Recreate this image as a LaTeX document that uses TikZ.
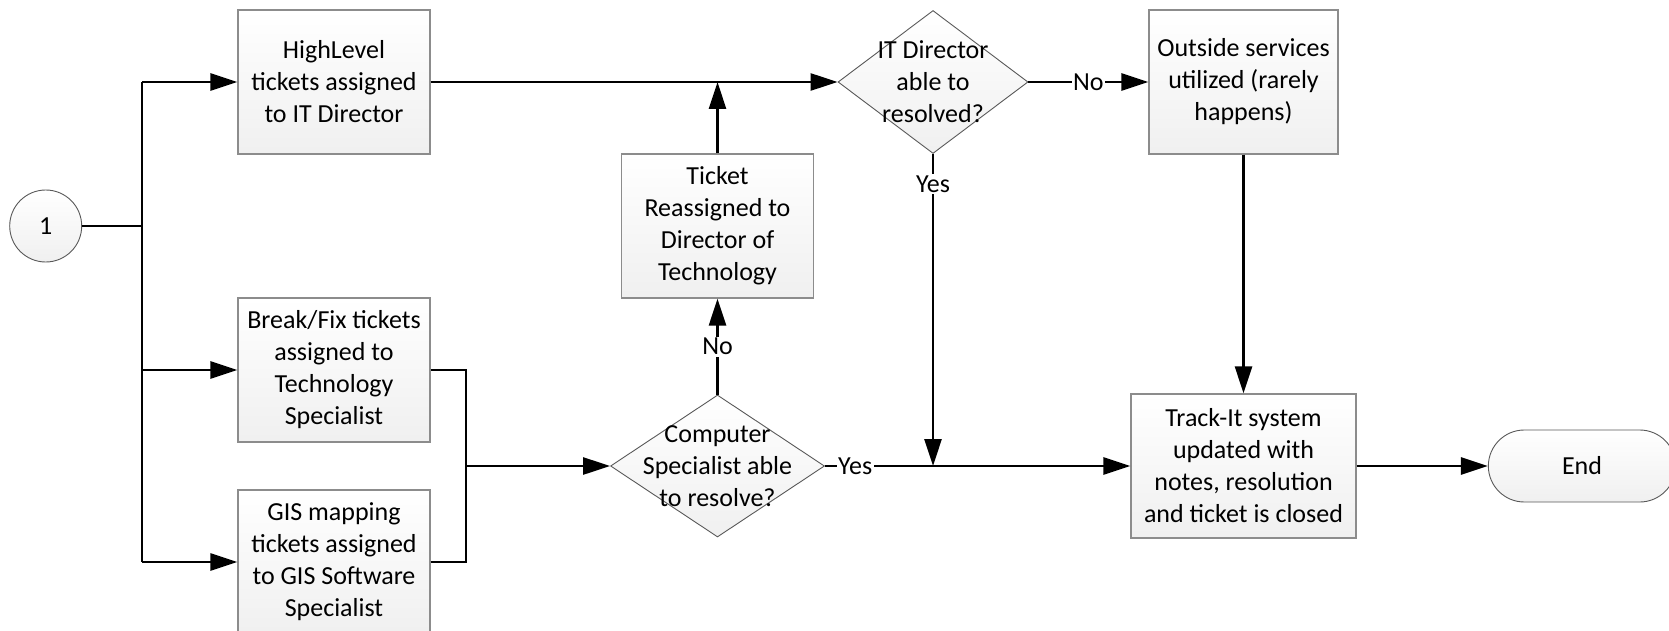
\documentclass[tikz,border=0pt]{standalone}
\usepackage{fontspec}
\setmainfont{Carlito}
\usetikzlibrary{shapes.geometric,shapes.misc,arrows.meta,calc}

\begin{document}
\begin{tikzpicture}[x=1pt,y=-1pt,
  font=\fontsize{26}{32}\selectfont,
  flow/.style={line width=2.7pt, black},
  arr/.style={flow, -{Triangle[length=27pt,width=17pt]}},
  soft/.style={top color=white, bottom color=black!6},
  proc/.style={rectangle, draw=black!45, line width=1.3pt, soft,
    minimum width=192pt, minimum height=144pt, inner sep=2pt, align=center},
  decision/.style={diamond, draw=black!65, line width=0.9pt, soft, inner sep=0pt},
  lbl/.style={fill=white, inner sep=1.5pt},
]
\useasboundingbox (0,0) rectangle (1669,631);

% start connector
\node[circle, draw=black!65, line width=0.9pt, soft,
      minimum size=72pt, inner sep=0pt] (one) at (45.7,226) {1};

% ticket intake boxes
\node[proc] (high) at (334,82)  {HighLevel\\tickets assigned\\to IT Director};
\node[proc] (brk)  at (334,370) {Break/Fix tickets\\assigned to\\Technology\\Specialist};
\node[proc] (gis)  at (334,562) {GIS mapping\\tickets assigned\\to GIS Software\\Specialist};

% escalation path
\node[proc] (tkt) at (717.5,226) {Ticket\\Reassigned to\\Director of\\Technology};
\node[decision, minimum width=214pt, minimum height=142pt,
      label={[align=center]center:Computer\\Specialist able\\to resolve?}] (cmp) at (717.5,466) {};
\node[decision, minimum width=190pt, minimum height=143pt,
      label={[align=center]center:IT Director\\able to\\resolved?}] (itd) at (933,82) {};

% resolution
\node[proc, minimum width=189pt] (out) at (1243.5,82) {Outside services\\utilized (rarely\\happens)};
\node[proc, minimum width=225pt] (trk) at (1243.5,466) {Track-It system\\updated with\\notes, resolution\\and ticket is closed};
\node[rounded rectangle, draw=black!65, line width=0.9pt, soft,
      minimum width=194pt, minimum height=72pt] (endn) at (1582,466) {End};

% routing from the start connector
\coordinate (bus)    at (142,226);
\coordinate (bustop) at (142,82);
\coordinate (busbrk) at (142,370);
\coordinate (busbot) at (142,562);
\draw[flow] (one) -- (bus);
\draw[flow] (bustop) -- (busbot);
\draw[arr] (bustop) -- (high);
\draw[arr] (busbrk) -- (brk);
\draw[arr] (busbot) -- (gis);

% break/fix and GIS tickets merge into the specialist decision
\coordinate (merge) at (466,466);
\draw[flow] (brk.east) -| (merge);
\draw[flow] (gis.east) -| (merge);
\draw[arr] (merge) -- (cmp);

\draw[arr] (cmp) -- node[lbl]{No} (tkt);
\draw[arr] (tkt) -- (tkt |- high);
\draw[arr] (high) -- (itd);
\draw[arr] (itd) -- node[lbl, pos=0.096]{Yes} (itd |- trk);
\draw[arr] (cmp) -- node[lbl, pos=0.099]{Yes} (trk);
\draw[arr] (itd) -- node[lbl]{No} (out);
\draw[arr] (out) -- (trk);
\draw[arr] (trk) -- (endn);
\end{tikzpicture}
\end{document}
